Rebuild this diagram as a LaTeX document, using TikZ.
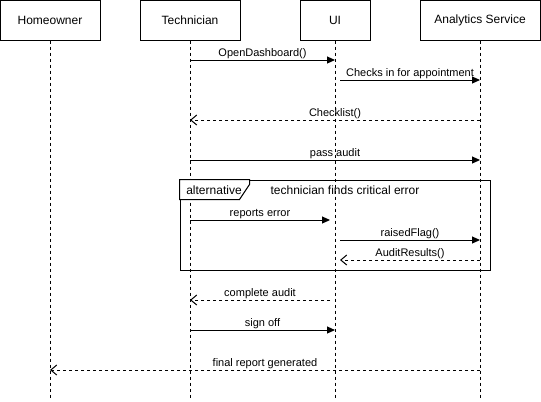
\documentclass[tikz,border=0pt]{standalone}
\usepackage{fontspec}
\setmainfont{Liberation Sans}
\usepackage{tikz}
\usetikzlibrary{arrows.meta,positioning}
\tikzstyle{actor} = [draw, line width=0.75pt, minimum height=30pt, inner sep=0pt, font=\fontsize{9}{11}\selectfont]
\tikzstyle{lifeline} = [draw, line width=0.75pt, dash pattern=on 2.25pt off 2.25pt]
\tikzstyle{call} = [draw, line width=0.75pt, -{Triangle[length=6pt,width=5.25pt]}]
\tikzstyle{reply} = [draw, line width=0.75pt, dash pattern=on 2.25pt off 2.25pt, -{Straight Barb[length=4.5pt,width=7.5pt]}]
\tikzstyle{lbl} = [anchor=base, yshift=2.7pt, inner sep=0pt, font=\fontsize{8.25}{10}\selectfont]
\tikzstyle{frame} = [draw, line width=0.75pt, inner sep=0pt]
\tikzstyle{frametext} = [inner sep=0pt, font=\fontsize{9}{11}\selectfont]
\newcommand{\actor}[3]{node (a#1) [actor, minimum width=#2] {#3}}
\begin{document}
\begin{tikzpicture}[x=0.75pt,y=-0.75pt]
\useasboundingbox (0,0) rectangle (541,401);
% participants
\path (50,20) \actor{1}{75pt}{Homeowner};
\path (190,20) \actor{2}{75pt}{Technician};
\path (335,20) \actor{3}{52.5pt}{UI};
\path (480,20) \actor{4}{90pt}{Analytics Service};
\foreach \i in {1,...,4} {
  \coordinate (l\i) at (a\i.south |- 0,400);
  \path [lifeline] (a\i.south) -- (l\i);
}
\coordinate (ur) at ([xshift=3.75pt]a3.south);
\coordinate (ul) at ([xshift=-3.75pt]a3.south);

% messages
\path [call] (a2 |- 0,60) -- node[lbl] {OpenDashboard()} (a3 |- 0,60);
\path [call] (ur |- 0,80) -- node[lbl] {Checks in for appointment} (a4 |- 0,80);
\path [reply] (a4 |- 0,120) -- node[lbl] {Checklist()} (a2 |- 0,120);
\path [call] (a2 |- 0,160) -- node[lbl] {pass audit} (a4 |- 0,160);

% alternative frame
\path (335,225) node (f1) [frame, minimum width=232.5pt, minimum height=67.5pt] {};
\path [draw, fill=white, line width=0.75pt] (f1.north west) -- ++(70,0) -- ++(0,5) -- ++(-10,15) -- ++(-60,0) -- cycle;
\path (214,190) node (f2) [frametext] {alternative};
\path (345,190) node (f3) [frametext] {technician finds critical error};
\path [call] (a2 |- 0,220) -- node[lbl] {reports error} (ul |- 0,220);
\path [call] (ur |- 0,240) -- node[lbl] {raisedFlag()} (a4 |- 0,240);
\path [reply] (a4 |- 0,260) -- node[lbl] {AuditResults()} (ur |- 0,260);

\path [reply] (ul |- 0,300) -- node[lbl] {complete audit} (a2 |- 0,300);
\path [call] (a2 |- 0,330) -- node[lbl] {sign off} (a3 |- 0,330);
\path [reply] (a4 |- 0,370) -- node[lbl] {final report generated} (a1 |- 0,370);
\end{tikzpicture}
\end{document}
